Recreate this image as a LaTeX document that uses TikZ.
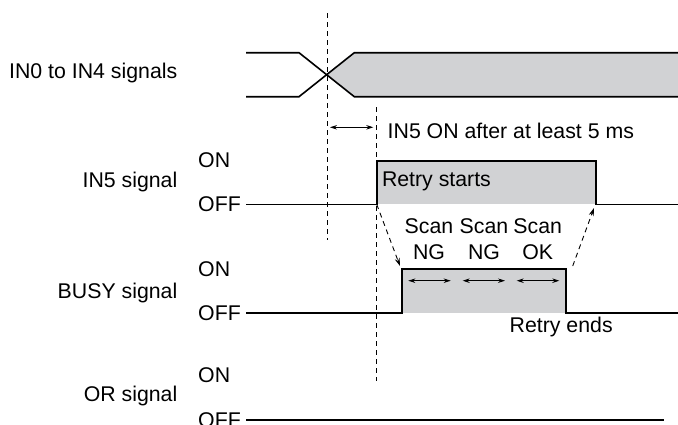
\documentclass[tikz,border=0pt]{standalone}
\usepackage{xcolor}
\usepackage{fontspec}
\setmainfont{Liberation Sans}
\usetikzlibrary{arrows.meta, positioning}

\definecolor{busgray}{RGB}{209,210,212}

\begin{document}
\begin{tikzpicture}[
      x=1pt, y=-1pt,
      lbl/.style={font=\fontsize{21.3}{25}\selectfont, inner sep=0pt},
      signame/.style={lbl, anchor=base east},
      lvl/.style={lbl, anchor=base west},
      wave/.style={line width=1.6pt, line join=miter},
      guide/.style={line width=0.9pt, dash pattern=on 5pt off 4pt},
      span/.style={{Stealth[length=7pt,width=4.5pt]}-{Stealth[length=7pt,width=4.5pt]}, line width=0.9pt},
      zoomarrow/.style={-{Stealth[length=8pt,width=5pt]}, line width=0.9pt, dash pattern=on 5pt off 4pt}
    ]
    \useasboundingbox (0,0) rectangle (678,424);

    % signal names and levels
    \node[signame] (in04) at (177.5,78.3) {IN0 to IN4 signals};
    \node[signame] (in5) at (177.5,187.5) {IN5 signal};
    \node[signame] (busy) at (177.5,298.7) {BUSY signal};
    \node[signame] (or) at (177.5,401.7) {OR signal};
    \node[lvl] (in5on) at (198,167.3) {ON};
    \node[lvl] (in5off) at (198,211.7) {OFF};
    \node[lvl] (busyon) at (198,276) {ON};
    \node[lvl] (busyoff) at (198,320) {OFF};
    \node[lvl] (oron) at (198,382) {ON};
    \node[lvl] (oroff) at (198,427.5) {OFF};

    % key points
    \coordinate (cross) at (327.3,74.7);
    \coordinate (in5rise) at (376.7,204.3);
    \coordinate (in5fall) at (596,204.3);
    \coordinate (busyrise) at (402,269);
    \coordinate (busyfall) at (565.7,269);

    % IN0 to IN4
    \fill[busgray] (354.3,52.7) -- (cross) -- (354.3,96.7) -- (678,96.7) -- (678,52.7) -- cycle;
    \draw[wave] (246,52.7) -- (299,52.7) -- (354.3,96.7) -- (678,96.7);
    \draw[wave] (246,96.7) -- (299,96.7) -- (354.3,52.7) -- (678,52.7);

    % IN5
    \fill[busgray] (376.7,160.7) rectangle (in5fall);
    \draw[wave] (246,204.3) -- (in5rise) -- (376.7,160.7) -- (596,160.7) -- (in5fall) -- (678,204.3);
    \node[lvl] (retry) at (381.8,186.7) {Retry starts};

    % BUSY
    \fill[busgray] (busyrise) rectangle (565.7,312.7);
    \draw[wave] (246,312.7) -- (402,312.7) -- (busyrise) -- (busyfall) -- (565.7,312.7) -- (678,312.7);
    \node[lbl, anchor=base] (scan1) at (429,233.3) {Scan};
    \node[lbl, anchor=base] (scan2) at (484,233.3) {Scan};
    \node[lbl, anchor=base] (scan3) at (537.7,233.3) {Scan};
    \node[lbl, anchor=base] (ng1) at (429,259) {NG};
    \node[lbl, anchor=base] (ng2) at (484,259) {NG};
    \node[lbl, anchor=base] (ok) at (537.7,259) {OK};
    \draw[span] (408.3,280.7) -- (450.7,280.7);
    \draw[span] (462.7,280.7) -- (505,280.7);
    \draw[span] (516.7,280.7) -- (559.3,280.7);
    \node[lvl] (retryend) at (509.5,332.7) {Retry ends};

    % OR
    \draw[wave] (246,420) -- (663.6,420);

    % timing guides
    \coordinate (g1top) at (327.3,13.3);
    \coordinate (g1bot) at (327.3,240);
    \coordinate (g2top) at (376.7,107.3);
    \coordinate (g2bot) at (376.7,381);
    \draw[guide] (g1top) -- (g1bot);
    \draw[guide] (g2top) -- (g2bot);
    \draw[span] (330,127.3) -- (373.3,127.3);
    \node[lvl] (delay) at (387.5,138.3) {IN5 ON after at least 5 ms};

    \draw[zoomarrow] (in5rise) -- (400,266);
    \draw[zoomarrow] (572.7,266) -- (594,208);
  \end{tikzpicture}
\end{document}
